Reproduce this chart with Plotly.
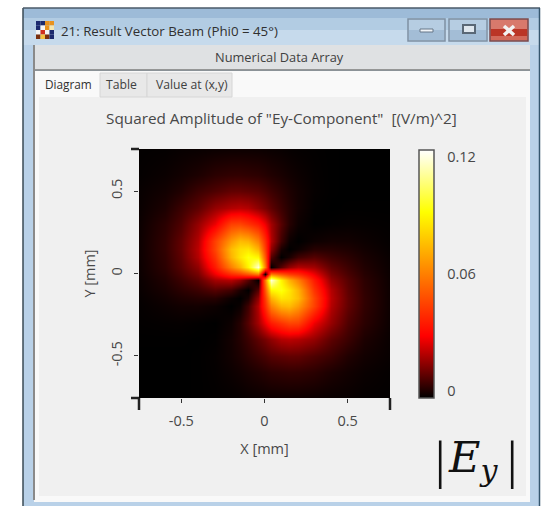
import plotly.graph_objects as go

W, H = 547, 506
PL, PR, PT, PB = 139, 390, 149, 398

x_mm = [-0.75,-0.6,-0.5,-0.4,-0.3,-0.2,-0.15,-0.1,-0.04,0,0.04,0.1,0.15,0.2,0.3,0.4,0.5,0.6,0.75]
y_mm = [0.75,0.6,0.5,0.4,0.3,0.2,0.15,0.1,0.04,0,-0.04,-0.1,-0.15,-0.2,-0.3,-0.4,-0.5,-0.6,-0.75]
ey_squared = [
 [.0003,.0005,.0009,.0011,.0014,.0016,.0016,.0016,.0015,.0014,.0012,.0010,.0007,.0005,.0003,.0001,0,0,0],
 [.0005,.0012,.0021,.0033,.005,.0058,.0059,.0056,.0052,.0045,.0038,.0029,.0021,.0014,.0005,.0001,0,0,0],
 [.0009,.0021,.0038,.0069,.0092,.0114,.0116,.011,.010,.0085,.007,.005,.0034,.0021,.0006,.0001,0,0,0],
 [.0011,.0033,.0069,.011,.0175,.021,.022,.021,.017,.014,.011,.007,.0043,.0022,.0003,0,.0001,.0001,.0001],
 [.0014,.005,.0092,.0175,.028,.045,.046,.042,.036,.028,.019,.010,.0045,.0015,0,.0003,.0006,.0005,.0003],
 [.0016,.0058,.0114,.021,.045,.066,.074,.072,.060,.040,.021,.0075,.0014,0,.0015,.0022,.0021,.0014,.0005],
 [.0016,.0059,.0116,.022,.046,.074,.082,.084,.072,.044,.017,.003,0,.0014,.0045,.0043,.0034,.0021,.0007],
 [.0016,.0056,.011,.021,.042,.072,.084,.092,.088,.05,.010,0,.003,.0075,.010,.007,.005,.0029,.0010],
 [.0015,.0052,.010,.017,.036,.060,.072,.088,.116,.059,0,.010,.017,.021,.019,.011,.007,.0038,.0012],
 [.0014,.0045,.0085,.014,.028,.04,.044,.05,.059,0,.059,.05,.044,.04,.028,.014,.0085,.0045,.0014],
 [.0012,.0038,.007,.011,.019,.021,.017,.010,0,.059,.116,.088,.072,.060,.036,.017,.010,.0052,.0015],
 [.0010,.0029,.005,.007,.010,.0075,.003,0,.010,.05,.088,.092,.084,.072,.042,.021,.011,.0056,.0016],
 [.0007,.0021,.0034,.0043,.0045,.0014,0,.003,.017,.044,.072,.084,.082,.074,.046,.022,.0116,.0059,.0016],
 [.0005,.0014,.0021,.0022,.0015,0,.0014,.0075,.021,.040,.060,.072,.074,.066,.045,.021,.0114,.0058,.0016],
 [.0003,.0005,.0006,.0003,0,.0015,.0045,.010,.019,.028,.036,.042,.046,.045,.028,.0175,.0092,.005,.0014],
 [.0001,.0001,.0001,0,.0003,.0022,.0043,.007,.011,.014,.017,.021,.022,.021,.0175,.011,.0069,.0033,.0011],
 [0,0,0,.0001,.0006,.0021,.0034,.005,.007,.0085,.010,.011,.0116,.0114,.0092,.0069,.0038,.0021,.0009],
 [0,0,0,.0001,.0005,.0014,.0021,.0029,.0038,.0045,.0052,.0056,.0059,.0058,.005,.0033,.0021,.0012,.0005],
 [0,0,0,.0001,.0003,.0005,.0007,.0010,.0012,.0014,.0015,.0016,.0016,.0016,.0014,.0011,.0009,.0005,.0003],
]
x_ticks = [-0.5, 0, 0.5]
x_tick_labels = ["-0.5", "0", "0.5"]
y_ticks = [-0.5, 0, 0.5]
y_tick_labels = ["-0.5", "0", "0.5"]
bar_label_values = [0.0034, 0.06, 0.1166]
bar_labels = ["0", "0.06", "0.12"]
icon_colors = [["#1c2a6e","#1c2a6e","#e8921e","#e8921e"],
               ["#1c2a6e","#f5f5f5","#e8921e","#f5e6b0"],
               ["#f5f5f5","#d03020","#f5f5f5","#1c2a6e"],
               ["#7a3010","#f5c040","#7a3010","#1c2a6e"]]

TEXT = "#484848"
FONT = "Open Sans"

def px(v): return (v - PL) / (PR - PL)
def py(v): return (PB - v) / (PB - PT)

shapes = []
def rect(x0, y0, x1, y1, fill, line=None, lw=1, layer="below"):
    shapes.append(dict(type="rect", xref="paper", yref="paper", x0=px(x0), x1=px(x1), y0=py(y0), y1=py(y1),
                       fillcolor=fill, line=dict(color=line or fill, width=lw if line else 0), layer=layer))
def seg(x0, y0, x1, y1, color, lw=1, layer="below"):
    shapes.append(dict(type="line", xref="paper", yref="paper", x0=px(x0), x1=px(x1), y0=py(y0), y1=py(y1),
                       line=dict(color=color, width=lw), layer=layer))

# window frame
rect(23, 8, 540, 506, "#b9d1e8")
rect(23, 8, 540, 18, "#9dbbd8")
rect(23, 18, 540, 30, "#b2cce3")
rect(23, 30, 540, 45, "#c6daec")
seg(23, 8, 23, 506, "#3a4a55", 1.5)
seg(23, 8, 540, 8, "#4a5a68", 1.5)
seg(539.5, 8, 539.5, 506, "#35566e", 1.5)
rect(33, 45, 530, 70, "#dfe1e3")
seg(33, 70, 530, 70, "#7d7d7d", 1.5)
rect(34, 71, 530, 502, "#f9f9f9")
seg(34, 45, 34, 500, "#8a8a8a", 2)
rect(39, 97, 526, 496, "#f0f0f0")
# tabs
rect(100, 73, 147, 97, "#e8e8e8", "#d6d6d6", 1)
rect(147, 73, 232, 97, "#e8e8e8", "#d6d6d6", 1)
# icon
for r, row in enumerate(icon_colors):
    for c, col in enumerate(row):
        rect(36 + c*4.5, 21 + r*4.5, 40.5 + c*4.5, 25.5 + r*4.5, col)
# window buttons
rect(408, 19, 445, 41, "#b6cde2", "#7f90a3", 1.5)
rect(409, 30, 444, 40, "#a3bdd6")
rect(449, 19, 487, 41, "#b6cde2", "#7f90a3", 1.5)
rect(450, 30, 486, 40, "#a3bdd6")
rect(490, 19, 528, 41, "#d8796c", "#7a4a4c", 1.5)
rect(491, 29, 527, 36, "#bb3526")
rect(491, 36, 527, 40, "#d2695a")
rect(420, 29, 433, 32, "#f0f4f8", "#667788", 1)
rect(463, 25, 475, 33, "#dfe7ee", "#5a6876", 2)
seg(504, 26, 514, 35, "#f2f2f2", 3.5)
seg(514, 26, 504, 35, "#f2f2f2", 3.5)
# corner axis marks
seg(131, 149, 139, 149, "#222222", 2.5, "above")
seg(131, 398, 139, 398, "#222222", 2.5, "above")
seg(139, 398, 139, 410, "#222222", 2.5, "above")
seg(390, 398, 390, 410, "#222222", 2.5, "above")

def note(x, y, text, size=12, color=TEXT, angle=0, font=FONT):
    return dict(xref="paper", yref="paper", x=px(x), y=py(y), text=text, showarrow=False, textangle=angle,
                xanchor="center", yanchor="middle", font=dict(family=font, size=size, color=color))

annotations = [
    note(169.5, 31, "21: Result Vector Beam (Phi0 = 45°)", 13.3, "#303030"),
    note(279, 57, "Numerical Data Array", 12.8, "#404040"),
    note(68, 84, "Diagram", 11.8, "#303030"),
    note(121.5, 85, "Table", 12.2, "#404040"),
    note(192, 85, "Value at (x,y)", 12.2, "#404040"),
    note(281.5, 118, "Squared Amplitude of \"Ey-Component\"  [(V/m)^2]", 15.3, TEXT),
    note(439.5, 460, "|", 52, "#111111", font="Liberation Serif"),
    note(512, 460, "|", 52, "#111111", font="Liberation Serif"),
    note(473, 460, "<i>E<sub>y</sub></i>", 43, "#111111", font="DejaVu Serif"),
]

fig = go.Figure(go.Heatmap(
    x=x_mm, y=y_mm, z=ey_squared, zmin=0, zmax=0.12, zsmooth="best", hoverinfo="skip",
    colorscale=[[0, "#000000"], [0.25, "#ff0000"], [0.75, "#ffff00"], [1, "#ffffff"]],
    colorbar=dict(
        x=px(419), xanchor="left", xref="paper", y=py(150), yanchor="top", yref="paper",
        thickness=15, thicknessmode="pixels", len=248, lenmode="pixels", xpad=0, ypad=0,
        outlinecolor="#555555", outlinewidth=1.5, borderwidth=0,
        tickmode="array", tickvals=bar_label_values, ticktext=bar_labels,
        ticks="outside", ticklen=10, tickcolor="rgba(0,0,0,0)",
        tickfont=dict(family=FONT, size=14.5, color=TEXT),
    ),
))

fig.update_layout(
    width=W, height=H, autosize=False,
    margin=dict(l=PL, r=W-PR, t=PT, b=H-PB, pad=0),
    paper_bgcolor="#ffffff", plot_bgcolor="#000000",
    shapes=shapes, annotations=annotations, showlegend=False,
    font=dict(family=FONT, size=14.5, color=TEXT),
    xaxis=dict(range=[-0.755, 0.755], tickmode="array", tickvals=x_ticks, ticktext=x_tick_labels,
               ticks="outside", ticklen=4, tickcolor="#333333", tickwidth=1, showgrid=False, zeroline=False,
               showline=False, ticklabelstandoff=6,
               tickfont=dict(family=FONT, size=14.5, color=TEXT),
               title=dict(text="X [mm]", font=dict(family=FONT, size=14.5, color=TEXT), standoff=14)),
    yaxis=dict(range=[-0.755, 0.755], tickmode="array", tickvals=y_ticks, ticktext=y_tick_labels,
               ticks="outside", ticklen=4, tickcolor="#333333", tickwidth=1, showgrid=False, zeroline=False,
               showline=False, tickangle=-90, ticklabelstandoff=6,
               tickfont=dict(family=FONT, size=14.5, color=TEXT),
               title=dict(text="Y [mm]", font=dict(family=FONT, size=14.5, color=TEXT), standoff=8)),
)

fig.write_html("out.html", config=dict(displayModeBar=False),
               post_script="document.body.style.margin='0';document.body.style.overflow='hidden';")
